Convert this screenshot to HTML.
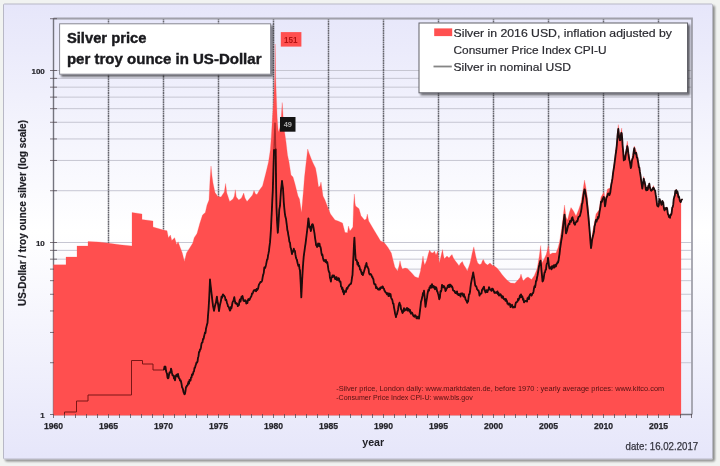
<!DOCTYPE html>
<html lang="en">
<head>
<meta charset="utf-8">
<title>Silver price per troy ounce in US-Dollar</title>
<style>
html,body{margin:0;padding:0;background:#f1f3f1;}
body{width:720px;height:466px;overflow:hidden;position:relative;font-family:"Liberation Sans",sans-serif;}
svg{position:absolute;left:0;top:0;display:block;}
svg text{font-family:"Liberation Sans",sans-serif;}
</style>
</head>
<body>
<svg width="720" height="466" viewBox="0 0 720 466">
<defs>
<linearGradient id="pg" x1="0" y1="0" x2="0" y2="1">
<stop offset="0" stop-color="#e6e6fa"/>
<stop offset="0.5" stop-color="#ffffff"/>
<stop offset="1" stop-color="#e6e6fa"/>
</linearGradient>
<filter id="sh" x="-5%" y="-5%" width="115%" height="125%">
<feGaussianBlur in="SourceAlpha" stdDeviation="1.1"/>
<feOffset dx="2" dy="2"/>
<feComponentTransfer><feFuncA type="linear" slope="0.6"/></feComponentTransfer>
<feMerge><feMergeNode/><feMergeNode in="SourceGraphic"/></feMerge>
</filter>
<filter id="sh2" x="-3%" y="-3%" width="108%" height="110%">
<feGaussianBlur in="SourceAlpha" stdDeviation="1"/>
<feOffset dx="1.6" dy="1.6"/>
<feComponentTransfer><feFuncA type="linear" slope="0.42"/></feComponentTransfer>
<feMerge><feMergeNode/><feMergeNode in="SourceGraphic"/></feMerge>
</filter>
<filter id="soft"><feGaussianBlur stdDeviation="0.5"/></filter>
</defs>

<!-- outer frame -->
<rect x="0" y="0" width="720" height="466" fill="#f1f3f1"/>
<rect x="3.5" y="4" width="709" height="455" rx="1" ry="1" fill="url(#pg)" stroke="#b8b8c6" stroke-width="1" filter="url(#sh2)"/>

<!-- plot area -->
<g stroke="#c6c6d2" stroke-width="1" fill="none">
<line x1="53.5" x2="692.0" y1="362.72" y2="362.72"/>
<line x1="53.5" x2="692.0" y1="332.44" y2="332.44"/>
<line x1="53.5" x2="692.0" y1="310.95" y2="310.95"/>
<line x1="53.5" x2="692.0" y1="294.28" y2="294.28"/>
<line x1="53.5" x2="692.0" y1="280.66" y2="280.66"/>
<line x1="53.5" x2="692.0" y1="269.14" y2="269.14"/>
<line x1="53.5" x2="692.0" y1="259.17" y2="259.17"/>
<line x1="53.5" x2="692.0" y1="250.37" y2="250.37"/>
<line x1="53.5" x2="692.0" y1="242.50" y2="242.50"/>
<line x1="53.5" x2="692.0" y1="190.72" y2="190.72"/>
<line x1="53.5" x2="692.0" y1="160.44" y2="160.44"/>
<line x1="53.5" x2="692.0" y1="138.95" y2="138.95"/>
<line x1="53.5" x2="692.0" y1="122.28" y2="122.28"/>
<line x1="53.5" x2="692.0" y1="108.66" y2="108.66"/>
<line x1="53.5" x2="692.0" y1="97.14" y2="97.14"/>
<line x1="53.5" x2="692.0" y1="87.17" y2="87.17"/>
<line x1="53.5" x2="692.0" y1="78.37" y2="78.37"/>
<line x1="53.5" x2="692.0" y1="70.50" y2="70.50"/>
<line x1="53.5" x2="692.0" y1="18.72" y2="18.72"/>
</g>
<g stroke="#66666e" stroke-width="1.5" stroke-dasharray="1.8 0.5" fill="none">
<line x1="108.5" x2="108.5" y1="18.5" y2="414.5"/>
<line x1="163.5" x2="163.5" y1="18.5" y2="414.5"/>
<line x1="218.5" x2="218.5" y1="18.5" y2="414.5"/>
<line x1="273.5" x2="273.5" y1="18.5" y2="414.5"/>
<line x1="328.5" x2="328.5" y1="18.5" y2="414.5"/>
<line x1="383.5" x2="383.5" y1="18.5" y2="414.5"/>
<line x1="438.5" x2="438.5" y1="18.5" y2="414.5"/>
<line x1="493.5" x2="493.5" y1="18.5" y2="414.5"/>
<line x1="548.5" x2="548.5" y1="18.5" y2="414.5"/>
<line x1="603.5" x2="603.5" y1="18.5" y2="414.5"/>
<line x1="658.5" x2="658.5" y1="18.5" y2="414.5"/>
</g>
<path d="M53.5 18.5H692.0V414.5" fill="none" stroke="#a0a0aa" stroke-width="1.8"/>

<!-- axes -->
<g stroke="#74747e" stroke-width="1.4" fill="none">
<line x1="53.5" x2="53.5" y1="18.5" y2="414.5"/>
<line x1="53.5" x2="692.0" y1="414.5" y2="414.5"/>
</g>

<!-- series -->
<g filter="url(#soft)">
<path d="M53.5 264.8L66 264.8L66 257L77 257L77 246L88 246L88 241.5L98.5 242L109 243.2L120 244.8L132 246L132 212.5L142 214L142 219.5L153 221L153 227L163.5 230L167 230.7L168.4 237.7L170.4 235L171.8 240.4L174.6 237.7L176.7 244.6L178.1 241.8L180.2 247.4L182.3 253L184.4 261.4L186.5 253L190 247.4L192.8 243L194.2 237.7L197 233.5L199.7 223.7L202.5 215L205.3 212.5L207 205L209 200L210 180L211 166L212 176L213 183L215 192.5L217.9 196.5L221 197L224.3 192L225.6 183.5L226.8 193L229.7 201.5L233 199L234.4 196L235.3 189.7L236.3 197L238.8 200L241.5 198L243.7 193L245 198L247 201.6L250 198L252.5 195L254 190.4L255.5 194L257 194.6L259.5 190L262.5 186L266 172.5L268.5 162L270.3 150L271.3 137L272.3 120L273.7 100L274.8 76L275.2 44L275.6 76L276.5 100L277.2 118L278.3 132L279.8 128L281.2 118L282.2 102.5L283.2 118L284.3 130L286 142L287.5 155L289 162L291 175L293 177L295 184L298 196L299.5 199L301.5 212.5L303.5 190L304.5 177L305.5 168L307.7 149L309 153L311.7 160L313 163L315.5 168L317 176L318.5 187L320 186L321 182L323 196L325 200L328 208L330.5 214L335 220L338 221L342.5 223L345 232.5L346.4 232.4L347.4 233L348.5 226L349.9 231L351.5 229L352.9 227L353.6 205L354.3 194L355 203L355.6 206L359 208.7L361 215.7L364.5 220L366.3 219L367.3 214L368.7 221L372.2 227L376.4 234L380.6 241L383 242L385 243.5L388 247.5L391.3 253L393 260L394.8 267L397.5 271L399 266L400 260.8L401.2 266L402.4 269L405 268L407.3 268.5L411.5 272.7L415 276.8L418.5 278L420.5 271L422 262L423 256L423.9 262L424.7 265L426.8 260L428.3 254L429.6 250L431 252.5L433 253L434.5 251L436 255L437.7 251L438.6 258L439.4 263L441 256L442.5 249.6L443.4 255L444.3 258.7L447 256L449 258L450.5 256L452 254.5L453.4 258L454.7 260L457 263L459 265.7L460.7 263L462.4 261.5L463.8 265L465.2 267L467.3 271L468.7 267L470 263L471.2 258L472.2 253L473.8 246.9L474.7 251L475.7 256L476.7 260L477.7 263L479.5 264.5L481.2 264L482.3 261L483.3 259.4L485 263L487.5 265L490 263L492.5 265.5L494 265.7L497 268L499.5 271L502 274.5L505 278L508 281L510.7 283L514.9 283.3L518.4 279.6L520 277.5L521 274L522 277.5L523.2 281L526 278L528 277L531.6 279.6L534.4 275.4L537.2 268.5L539.3 256L540.7 245.5L541.4 255L542 263L544.2 258.7L546.2 254.5L547.4 250L548.3 245.5L549 250L549.7 254.5L552.5 253L556 253L558.1 247.5L559.5 242L561 232.5L563 218L564.5 205L566 217L567.5 220L569.5 212L571 207.5L573.5 211L576 216L578.5 210L581 202.5L583 190L584.5 180L586 188L587.5 197.5L589 215L590 230L591 242.5L592.5 232L594 225L596 214L599 210L601 197L604 192L605 200L607.5 189L610 188L612 178L613.5 167L614.7 157.5L615.6 150L616.8 141L617.5 131.5L618.3 124.5L619.1 131L619.9 137L620.8 132.5L621.7 128L622.6 140L623.8 154.5L625 155.5L626.2 147.5L627.3 141L628.3 148.5L629.3 155.5L630.8 164L632.4 155L634.3 146L635.6 149.5L636.8 152.5L637.8 156.5L638.8 163L639.8 168L640.7 174L641.7 182L642.3 186.8L643.7 176.3L644.8 181.8L645.8 186.3L647.3 187.8L649.3 182.8L650.4 187L651.4 190L653.5 185.5L654.6 189L655.6 192.5L657 202L658.3 206.2L659.7 199L661.4 204L662.8 200.5L664.6 209.4L666.7 206.7L668 211.5L669.5 216.5L671.6 211.3L672.7 205.5L673.7 200.2L674.8 194L675.8 189.5L677.9 193.2L679.3 198.5L680.7 203.3L681 201L681.0 415.3L53.5 415.3Z" fill="#ff5050" stroke="#ff5050" stroke-width="0.25" stroke-linejoin="round"/>
<path d="M64.5 414.5L64.5 412L76.5 412L76.5 401L88 401L88 395L131.5 395L131.5 360.5L142.5 360.5L142.5 364L153 364L153 370L164 370" fill="none" stroke="#7a1414" stroke-width="1" stroke-linejoin="miter"/>
<path d="M164 369.4L164.5 366.7L165 366.5L165.5 366.8L166 370.8L166.5 372.5L167 373.7L167.5 377.7L168 378.3L168.5 377.8L169 374.5L169.5 372.5L170 372.4L170.5 372.5L171 368.6L171.5 370.3L172 373L172.5 375.4L173 375.3L173.5 375.6L174 378.7L174.5 376.4L175 380.3L175.5 377.2L176 375.7L176.5 374.6L177 375L177.5 376.5L178 373.9L178.5 376.6L179 378.2L179.5 378.5L180 380.5L180.5 380.1L181 381.4L181.5 383.7L182 387.1L182.5 388L183 389.3L183.5 392L184 393.2L184.5 394.3L185 393.7L185.5 391L186 387.1L186.5 386.9L187 385.4L187.5 385.4L188 384.1L188.5 381.8L189 383.6L189.5 379.8L190 380.1L190.5 380.6L191 377.7L191.5 377.5L192 374.3L192.5 375.1L193 374L193.5 371.8L194 371.4L194.5 367.8L195 367.7L195.5 365.8L196 364.3L196.5 362.5L197 362.6L197.5 361.6L198 357.7L198.5 356.2L199 351.8L199.5 351.9L200 349.5L200.5 349.3L201 347.2L201.5 343.7L202 342.6L202.5 342.4L203 338.8L203.5 339.1L204 336.8L204.5 334.6L205 332.4L205.5 333L206 328.7L206.5 326.6L207 324.6L207.5 323L208 315.6L208.5 309.9L209.2 298.1L209.6 289.1L210 279.5L210.5 284.5L211 288.7L211.5 293.1L212 297.3L212.5 301.8L213 305.7L213.5 308L214 310.8L214.5 308.4L215 305.7L215.5 303.9L216 302.5L216.4 299.5L216.9 296.7L217.4 301L218 303.5L218.5 307L219 311.2L219.5 307.9L220 304.9L220.5 302.8L221 300.6L221.5 296.6L222 297.9L222.5 295.8L223 294.3L223.5 295.4L224 295.3L224.5 296.6L225 296.9L225.5 300.2L226 299.4L226.5 300.9L227 303L227.5 304.3L228 306.4L228.5 306.6L229 307.7L229.5 309.5L230 310.6L230.5 309.8L231 306.8L231.5 308.1L232 305.4L232.5 302.4L232.9 301.5L233.4 300.6L233.8 299.3L234.3 297.1L234.9 301.3L235.4 303.3L236 302.9L236.4 303.9L236.9 303.4L237.4 304.4L237.8 306.2L238.4 304.5L238.9 305.1L239.4 301.2L240 299.3L240.5 301.6L241 299.1L241.5 296.7L242 297.2L242.5 296L243 298.5L243.5 300.8L244 301.1L244.5 301.2L245 300.1L245.4 301L245.9 300.8L246.3 303.5L246.8 303.1L247.4 303L247.9 300.4L248.4 299L249 300.1L249.5 299.9L250 298.6L250.5 297.6L251 296.8L251.5 295.9L252 293.4L252.5 293.7L253 292.5L253.6 290.8L254.1 290.2L254.6 290.6L255.2 289.9L255.6 290.9L256.1 291.3L256.6 288.9L257 290.1L257.6 289.4L258.1 288.5L258.7 285.5L259.1 284.2L259.6 283.5L260.1 282.7L260.5 281.9L261.1 282.1L261.6 281.8L262.2 280.2L262.8 276.4L263.3 274.6L263.8 272.6L264.3 267.5L264.8 268.2L265.2 267.8L265.7 266L266.1 264.4L266.6 261.9L267.1 259.3L267.5 259.4L268 255.8L268.5 253.4L269 250.7L269.5 246.1L270 242.4L270.5 235.9L271 228.3L271.4 219.5L271.8 211.5L272.3 200.5L272.8 190.6L273.4 170.4L274 150M275.7 149.5L276.1 185.5L276.5 207.7L277.1 222.2L277.8 232.8L278.2 227.6L278.6 221.5L279.3 209.3L280 205.7L280.5 197.7L281 190L281.5 186.1L282 180.9L282.5 185L283 188.5L283.4 195.1L283.8 202.6L284.3 208.2L284.8 213.1L285.4 216.8L286 218.7L286.5 222.9L287 226.5L287.4 230.3L287.9 232.1L288.3 234.8L288.9 238L289.4 241.8L290 242.7L290.5 247.3L291 248.5L291.5 251.4L292 254.1L292.5 251.4L292.9 252L293.4 250.2L293.8 248.7L294.3 250.7L294.9 250.9L295.4 254.4L296 257.8L296.4 258.9L296.9 259.8L297.4 262.2L297.8 264L298.4 265.9L299 264.6L299.5 268.7L300 270.6L300.7 283.7L301.3 297.4L302 283L302.4 275.6L302.8 268.4L303.2 262.9L303.7 256.6L304.1 253.6L304.6 250.2L305 247L305.5 243.8L306 239.9L306.6 235L307.2 230L307.8 224.6L308.4 218.3L308.9 222.5L309.5 227.6L309.9 226.3L310.4 228.5L310.8 231.1L311.4 229L312 224.7L312.5 224.1L313 224.9L313.5 227.4L314 230.6L314.5 233.4L315 237.6L315.6 241.4L316.1 245.1L316.7 245.8L317.1 247L317.6 246.1L318.1 243.5L318.5 245.4L319 246L319.5 243.7L320 246.6L320.5 246.9L321 249.5L321.5 253.5L322 255.2L322.4 254.6L322.9 257.5L323.4 259.6L323.8 260.8L324.4 260.2L324.9 260.5L325.5 261.8L325.9 260L326.4 262.6L326.9 262.9L327.3 262.1L327.9 265.9L328.4 269.7L329 272L329.5 272.4L329.9 277.7L330.4 279L330.9 281.7L331.4 277.6L331.9 277.2L332.5 275.3L333 277L333.5 275.6L334 275.5L334.6 276.9L335.1 279.1L335.6 279.1L336.1 277.3L336.6 277.1L337 280.1L337.5 279.1L338 279.7L338.5 278.1L339 278.7L339.5 281.6L340 281.2L340.5 281.6L341 286.3L341.5 286.9L342 289.1L342.5 287.8L342.9 291.8L343.4 290.2L343.9 294.3L344.4 292.2L345 291.1L345.5 291.2L346 291.9L346.4 289L346.9 287.9L347.4 288.7L347.9 287.1L348.5 286.1L349 285.8L349.5 284.6L350 284.4L350.5 284.1L351 283.7L351.5 281.4L352 277.7L352.5 275L353 264.5L353.5 254.8L353.9 245.8L354.4 237.6L355 249.3L355.7 259.8L356.1 260.2L356.6 259.9L357.1 261.9L357.5 264.6L358.1 262.6L358.6 266.1L359.2 265.8L359.6 267.2L360.1 269.7L360.6 269.4L361 271L361.4 272.4L361.9 274.2L362.4 272.7L362.8 275.2L363.4 273.4L363.9 271.8L364.5 269.7L365 268.1L365.5 265.6L366 264.5L366.5 263L367 266.9L367.5 266.6L368 267.8L368.5 268.8L369 272.7L369.5 274.1L370 274.6L370.5 273.9L371 274.4L371.5 275.3L372 276.9L372.4 276.8L372.9 278.8L373.4 279.1L373.9 283L374.5 284.4L375 284.2L375.5 284.3L376 288.1L376.5 286.9L377 288.3L377.5 288.2L378 289.5L378.5 289.7L379 289.7L379.5 288.5L380 289.5L380.5 287.4L381 288.1L381.5 287.1L382 287.9L382.5 286.4L383 286.9L383.5 288.5L384 288.8L384.5 290.7L385 291.1L385.5 292.4L386 292.6L386.5 293.3L387 294.4L387.5 293.1L388 293.4L388.5 296.1L389 293.4L389.5 295.8L390 295.8L390.5 294L391 297.2L391.5 298.7L392 299.1L392.5 300.8L393 303.6L393.5 303.7L394 307.6L394.5 309.8L395 313.2L395.5 315.1L396 317.2L396.5 314.6L397 314.1L397.5 311.7L398 309.9L398.5 306.5L399 304.1L399.5 302.7L400 304.8L400.5 305.2L401 309.2L401.5 309.7L402 311.5L402.5 313L403 312.3L403.5 310.8L404 308.2L404.5 310.8L405 310.4L405.5 309.3L406 309.1L406.5 309.8L407 307.9L407.5 310.6L408 309.1L408.5 308.7L409 309.7L409.5 311.6L410 309.9L410.5 312.4L411 313.7L411.5 312.5L412 312.6L412.5 313.7L413 315.2L413.5 316.2L414 316.4L414.5 316.8L415 315.1L415.5 315.6L416 316.3L416.5 318.4L417 317.1L417.5 318.3L418 316.6L418.5 317.1L419 318.7L419.5 314.7L420 310.3L420.5 306.5L421 301.7L421.5 300.4L422 298L422.5 295.9L423 293L423.5 294.1L424 290.6L424.4 295.2L424.8 298.6L425.5 306.8L426 303.7L426.5 300.5L427 297.7L427.5 293.8L428 291.5L428.5 289.6L429 290.6L429.5 287.3L430 288L430.5 285.7L431 286.6L431.5 287.6L432 284.2L432.5 286.2L433 285.7L433.5 287.7L434 287.7L434.5 286.5L435 289.4L435.5 288.5L436 287.3L436.5 288.2L437 291L437.5 291.8L437.9 293.3L438.4 294.7L438.9 297.4L439.3 299.3L439.9 297.7L440.5 291.2L441 291.7L441.5 289.7L442 284.9L442.5 285.5L443 285.8L443.5 287.4L444 286.2L444.5 287.3L445 288.1L445.5 291L446 290.3L446.5 288.7L447 288.2L447.5 286.9L448 285.4L448.5 285.1L449 287.2L449.5 284.7L450 286.6L450.5 284.7L451 285.4L451.5 286.8L452 286.3L452.5 287.5L453 290.2L453.5 290.6L454 290.9L454.5 290.9L455 292.5L455.5 293.1L456 292.2L456.5 293.3L457 291.4L457.5 294.3L458 293.7L458.5 295.2L459 295.2L459.5 294.3L460 293.9L460.5 296.7L461 293.4L461.5 294.3L462 293.4L462.5 293.5L463 295.4L463.5 296.5L464 294.1L464.5 296.9L465 296.9L465.5 299.2L466.1 300.3L466.6 301.1L467.2 302.8L467.6 300.9L468.1 301.5L468.5 298L469 294.3L469.5 294.1L470 291.8L470.5 287.2L471 283.4L471.5 280.9L472.1 277.9L472.6 276.1L473.2 272.5L473.7 275.6L474.2 278.1L474.7 281.8L475.2 285.4L475.6 286.1L476.1 286.2L476.6 287.4L477 289.1L477.5 289.6L478 290.4L478.5 290.4L479 292.2L479.5 295.7L480 293.7L480.5 294L481 293.5L481.5 293.3L482 290L482.5 289.2L483 288.1L483.5 287.6L484 286.8L484.5 290L485 291L485.5 292.5L486 290.8L486.5 290.2L487 292L487.5 292L488 289.9L488.5 289.8L489 287.2L489.5 288.1L490 289.5L490.5 289.6L491 290.1L491.5 290.9L492 288.7L492.5 288.6L493 289.1L493.5 290.7L494 291.6L494.5 292.8L495 292.3L495.5 292.3L496 293.1L496.5 292.2L497 292.9L497.5 291.3L498 294.4L498.5 292.8L499 295.7L499.5 295.1L500 294.3L500.5 294.2L501 295.1L501.5 297L502 297.7L502.5 296.1L503 296.5L503.5 298.6L504 299.3L504.5 299.1L505 299L505.5 300.8L506 299L506.5 300.5L507 301.5L507.5 303.7L508 303.1L508.5 304.6L509 303.7L509.5 303.4L510 304.1L510.5 307L511 306.5L511.5 305.4L512 304.8L512.5 306.7L513 307.6L513.5 307L514 306.6L514.5 307.3L515 307.4L515.5 304L516 302.3L516.5 302.4L517 301.7L517.5 301.7L518 298.9L518.5 300.1L519 298.9L519.5 297.3L520 295.4L520.5 297.4L521 294.3L521.5 297.2L522 296L522.5 297L523 299.9L523.5 299.1L524 302.4L524.5 301.6L525 301.4L525.5 300.9L526 301L526.5 301.2L527 301.6L527.5 298.1L528 298.4L528.5 297.1L529 299.2L529.5 295.6L530 294.6L530.5 294L531 294.6L531.5 295.6L532 294.7L532.5 293.3L533 293.1L533.5 291.7L534 288.4L534.5 286.2L535 287.3L535.5 285L536 280.8L536.5 280.9L537 277.7L537.5 275.5L538 272.7L538.5 269.5L539 266.2L539.5 264.5L540 262.1L540.5 260.7L541 264.5L541.5 270.7L542 275.6L542.5 281.5L543.1 280.7L543.7 278.2L544.1 275.3L544.6 272.4L545 272.4L545.5 269.9L546 269.7L546.5 264.9L547 263.3L547.5 263.1L548 257.8L548.5 261.9L549 266.1L549.5 268.5L550 268.3L550.5 267.6L551 266.9L551.5 269.3L552 266.1L552.5 267.6L553 267.9L553.5 265.7L554 265.2L554.5 267.5L555 266.2L555.5 264.8L556 266.3L556.5 264.3L557 263.7L557.5 262.2L558 262.6L558.5 260.8L559 257.2L559.5 254.1L560 249.3L560.6 245.1L561.2 241L561.6 238.8L562.1 236L562.5 232.3L563 227.4L563.5 222.9L564 218.5L564.5 214.6L564.9 218.5L565.3 224.4L566 233.4L566.5 232.2L567 230.5L567.5 228.4L568 226L568.5 224.7L569 223.5L569.5 224.3L570 221L570.5 220.7L571 221.9L571.5 219.4L572 218.1L572.5 217.3L573 220.2L573.5 220.4L574 223.7L574.5 223.9L575 224.8L575.5 222.7L576 222.5L576.5 221.3L577 221.5L577.5 221L578 218.8L578.5 217L579 216.7L579.5 216.4L580 215.6L580.5 213.6L581 211.6L581.5 208.6L582 203.9L582.5 203L583 198.5L583.5 195.1L584 191.6L584.5 189.4L584.9 189.9L585.4 192.6L585.8 195.1L586.4 198.3L587 203.6L587.5 208.1L588 212.7L588.5 217.9L589 223.7L589.5 229.5L590 235.6L590.5 242.4L591 248.2L591.5 245.2L592 240.4L592.5 238L593 236.1L593.5 233.9L594 231.8L594.5 226.3L595 224.9L595.5 222L596 219.9L596.5 221.7L597 219.3L597.5 219.5L598 216.9L598.5 218L599 215.9L599.5 212.2L600 209.4L600.5 206.6L601 201.6L601.5 202.3L602 201.4L602.5 199L603 198.7L603.5 197L604 197.1L604.5 201.4L605 206.4L605.4 204.5L605.9 200.9L606.3 198.2L606.9 196.9L607.5 195.6L608 193.7L608.5 194L609 193.4L609.4 195.1L609.9 193.7L610.3 192.4L610.8 188.4L611.3 184.6L611.9 181.7L612.5 178.2L613 173.7L613.5 170.2L614 167.3L614.7 161.9L615.2 158.2L615.6 154.7L616.2 151L616.8 145.4L617.5 136.1L617.9 132.3L618.3 128.9L618.7 133L619.1 136.7L619.5 138.6L619.9 140.4L620.3 140.1L620.8 135.9L621.2 133L621.7 133.1L622.2 138.6L622.6 145.5L623.2 151.9L623.8 160.4L624.4 159.4L625 159.5L625.6 155.3L626.2 152.2L626.8 149.3L627.3 146.1L627.8 148.7L628.3 153.2L628.8 156.3L629.3 160L629.8 161.4L630.3 164.6L630.8 168.1L631.3 166.5L631.9 160.6L632.4 159L632.9 157.7L633.3 155.9L633.8 150.8L634.3 148.2L634.7 152.3L635.2 153.5L635.6 152.9L636.2 152.9L636.8 157.5L637.3 157.6L637.8 160.6L638.3 163.2L638.8 167.2L639.3 167.3L639.8 171.4L640.2 173.6L640.7 176.9L641.2 181L641.7 184.5L642.3 188.5L642.8 185.1L643.2 181.9L643.7 178.6L644.2 180.8L644.8 182.6L645.3 185.3L645.8 189.3L646.3 190.4L646.8 187.8L647.3 190.2L647.8 189.7L648.3 185.8L648.8 187.5L649.3 183.6L649.8 187.1L650.4 188.7L650.9 190.5L651.4 190.8L651.9 190.1L652.5 189.5L653 187.9L653.5 187.6L654 188.6L654.6 190.3L655.1 190.5L655.6 194.2L656.1 197.2L656.5 200L657 204.4L657.4 205.9L657.9 206.1L658.3 206.5L658.8 205.2L659.2 201.5L659.7 199.2L660.3 201.8L660.8 202L661.4 204.8L661.9 203.9L662.3 201L662.8 202L663.2 202.2L663.7 206.8L664.1 209.2L664.6 210.4L665.1 208.1L665.7 209.1L666.2 207.9L666.7 209.3L667.1 208L667.6 212.2L668 214.3L668.5 215L669 217L669.5 216.4L670 217.8L670.5 214.6L671.1 214.9L671.6 213.3L672.2 207.7L672.7 207L673.2 204.9L673.7 199.1L674.2 197.1L674.8 195.4L675.3 191L675.8 191.4L676.3 190.1L676.8 193L677.4 191.5L677.9 193.7L678.4 197L678.8 196.2L679.3 198.1L679.8 200.6L680.2 201.5L680.7 202.1L681.1 201.2L681.6 199.7L682 199.5" fill="none" stroke="#1c0808" stroke-width="1.8" stroke-linejoin="round" stroke-linecap="round"/>
<path d="M274 150L275 123L275.7 150" fill="none" stroke="#5a0a0a" stroke-width="1.3" stroke-opacity="0.55" stroke-linejoin="round"/>
</g>

<!-- axes ticks -->
<g stroke="#4a4048" stroke-width="1" fill="none" opacity="0.7">
<line x1="50.0" x2="54.0" y1="414.50" y2="414.50"/>
<line x1="50.0" x2="54.0" y1="362.72" y2="362.72"/>
<line x1="50.0" x2="54.0" y1="332.44" y2="332.44"/>
<line x1="50.0" x2="54.0" y1="310.95" y2="310.95"/>
<line x1="50.0" x2="54.0" y1="294.28" y2="294.28"/>
<line x1="50.0" x2="54.0" y1="280.66" y2="280.66"/>
<line x1="50.0" x2="54.0" y1="269.14" y2="269.14"/>
<line x1="50.0" x2="57.0" y1="259.17" y2="259.17"/>
<line x1="50.0" x2="57.0" y1="250.37" y2="250.37"/>
<line x1="50.0" x2="57.0" y1="242.50" y2="242.50"/>
<line x1="50.0" x2="57.0" y1="190.72" y2="190.72"/>
<line x1="50.0" x2="57.0" y1="160.44" y2="160.44"/>
<line x1="50.0" x2="57.0" y1="138.95" y2="138.95"/>
<line x1="50.0" x2="57.0" y1="122.28" y2="122.28"/>
<line x1="50.0" x2="57.0" y1="108.66" y2="108.66"/>
<line x1="50.0" x2="57.0" y1="97.14" y2="97.14"/>
<line x1="50.0" x2="57.0" y1="87.17" y2="87.17"/>
<line x1="50.0" x2="57.0" y1="78.37" y2="78.37"/>
<line x1="50.0" x2="57.0" y1="70.50" y2="70.50"/>
<line x1="50.0" x2="57.0" y1="18.72" y2="18.72"/>
<line x1="53.5" x2="53.5" y1="414.0" y2="418.0"/>
<line x1="64.5" x2="64.5" y1="414.0" y2="418.0"/>
<line x1="75.5" x2="75.5" y1="414.0" y2="418.0"/>
<line x1="86.5" x2="86.5" y1="414.0" y2="418.0"/>
<line x1="97.5" x2="97.5" y1="414.0" y2="418.0"/>
<line x1="108.5" x2="108.5" y1="414.0" y2="418.0"/>
<line x1="119.5" x2="119.5" y1="414.0" y2="418.0"/>
<line x1="130.5" x2="130.5" y1="414.0" y2="418.0"/>
<line x1="141.5" x2="141.5" y1="414.0" y2="418.0"/>
<line x1="152.5" x2="152.5" y1="414.0" y2="418.0"/>
<line x1="163.5" x2="163.5" y1="414.0" y2="418.0"/>
<line x1="174.5" x2="174.5" y1="414.0" y2="418.0"/>
<line x1="185.5" x2="185.5" y1="414.0" y2="418.0"/>
<line x1="196.5" x2="196.5" y1="414.0" y2="418.0"/>
<line x1="207.5" x2="207.5" y1="414.0" y2="418.0"/>
<line x1="218.5" x2="218.5" y1="414.0" y2="418.0"/>
<line x1="229.5" x2="229.5" y1="414.0" y2="418.0"/>
<line x1="240.5" x2="240.5" y1="414.0" y2="418.0"/>
<line x1="251.5" x2="251.5" y1="414.0" y2="418.0"/>
<line x1="262.5" x2="262.5" y1="414.0" y2="418.0"/>
<line x1="273.5" x2="273.5" y1="414.0" y2="418.0"/>
<line x1="284.5" x2="284.5" y1="414.0" y2="418.0"/>
<line x1="295.5" x2="295.5" y1="414.0" y2="418.0"/>
<line x1="306.5" x2="306.5" y1="414.0" y2="418.0"/>
<line x1="317.5" x2="317.5" y1="414.0" y2="418.0"/>
<line x1="328.5" x2="328.5" y1="414.0" y2="418.0"/>
<line x1="339.5" x2="339.5" y1="414.0" y2="418.0"/>
<line x1="350.5" x2="350.5" y1="414.0" y2="418.0"/>
<line x1="361.5" x2="361.5" y1="414.0" y2="418.0"/>
<line x1="372.5" x2="372.5" y1="414.0" y2="418.0"/>
<line x1="383.5" x2="383.5" y1="414.0" y2="418.0"/>
<line x1="394.5" x2="394.5" y1="414.0" y2="418.0"/>
<line x1="405.5" x2="405.5" y1="414.0" y2="418.0"/>
<line x1="416.5" x2="416.5" y1="414.0" y2="418.0"/>
<line x1="427.5" x2="427.5" y1="414.0" y2="418.0"/>
<line x1="438.5" x2="438.5" y1="414.0" y2="418.0"/>
<line x1="449.5" x2="449.5" y1="414.0" y2="418.0"/>
<line x1="460.5" x2="460.5" y1="414.0" y2="418.0"/>
<line x1="471.5" x2="471.5" y1="414.0" y2="418.0"/>
<line x1="482.5" x2="482.5" y1="414.0" y2="418.0"/>
<line x1="493.5" x2="493.5" y1="414.0" y2="418.0"/>
<line x1="504.5" x2="504.5" y1="414.0" y2="418.0"/>
<line x1="515.5" x2="515.5" y1="414.0" y2="418.0"/>
<line x1="526.5" x2="526.5" y1="414.0" y2="418.0"/>
<line x1="537.5" x2="537.5" y1="414.0" y2="418.0"/>
<line x1="548.5" x2="548.5" y1="414.0" y2="418.0"/>
<line x1="559.5" x2="559.5" y1="414.0" y2="418.0"/>
<line x1="570.5" x2="570.5" y1="414.0" y2="418.0"/>
<line x1="581.5" x2="581.5" y1="414.0" y2="418.0"/>
<line x1="592.5" x2="592.5" y1="414.0" y2="418.0"/>
<line x1="603.5" x2="603.5" y1="414.0" y2="418.0"/>
<line x1="614.5" x2="614.5" y1="414.0" y2="418.0"/>
<line x1="625.5" x2="625.5" y1="414.0" y2="418.0"/>
<line x1="636.5" x2="636.5" y1="414.0" y2="418.0"/>
<line x1="647.5" x2="647.5" y1="414.0" y2="418.0"/>
<line x1="658.5" x2="658.5" y1="414.0" y2="418.0"/>
<line x1="669.5" x2="669.5" y1="414.0" y2="418.0"/>
<line x1="680.5" x2="680.5" y1="414.0" y2="418.0"/>
<line x1="691.5" x2="691.5" y1="414.0" y2="418.0"/>
</g>

<!-- axis tick labels -->
<g font-size="8.6" font-weight="bold" fill="#26262c" stroke="#26262c" stroke-width="0.25" text-anchor="middle">
<text x="53.5" y="429">1960</text>
<text x="108.5" y="429">1965</text>
<text x="163.5" y="429">1970</text>
<text x="218.5" y="429">1975</text>
<text x="273.5" y="429">1980</text>
<text x="328.5" y="429">1985</text>
<text x="383.5" y="429">1990</text>
<text x="438.5" y="429">1995</text>
<text x="493.5" y="429">2000</text>
<text x="548.5" y="429">2005</text>
<text x="603.5" y="429">2010</text>
<text x="658.5" y="429">2015</text>
</g>
<g font-size="8" font-weight="bold" fill="#26262c" stroke="#26262c" stroke-width="0.2" text-anchor="end">
<text x="44.8" y="417.7">1</text>
<text x="44.8" y="245.7">10</text>
<text x="44.8" y="73.7">100</text>
</g>

<!-- axis titles -->
<text x="373.2" y="445.6" font-size="10.5" font-weight="bold" fill="#1e1e24" text-anchor="middle" textLength="22" lengthAdjust="spacingAndGlyphs">year</text>
<text transform="translate(25.8 213) rotate(-90)" font-size="10.2" font-weight="bold" fill="#1e1e24" stroke="#1e1e24" stroke-width="0.2" text-anchor="middle" textLength="186" lengthAdjust="spacingAndGlyphs">US-Dollar / troy ounce silver (log scale)</text>
<text x="625.6" y="450" font-size="10.4" fill="#34343e" stroke="#34343e" stroke-width="0.25" textLength="72.6" lengthAdjust="spacingAndGlyphs">date: 16.02.2017</text>

<!-- source notes -->
<g font-size="7" fill="#521212" xml:space="preserve">
<text x="336.2" y="390.7" textLength="328" lengthAdjust="spacingAndGlyphs">-Silver price, London daily: www.marktdaten.de, before 1970 :  yearly  average prices: www.kitco.com</text>
<text x="336.2" y="400.4" textLength="136.5" lengthAdjust="spacingAndGlyphs">-Consumer Price Index CPI-U: www.bls.gov</text>
</g>

<!-- peak labels -->
<rect x="280.8" y="32.1" width="20.6" height="14.5" fill="#ff5050"/>
<text x="284" y="42.9" font-size="9" font-weight="bold" fill="#b41212" textLength="13.6" lengthAdjust="spacingAndGlyphs">151</text>
<rect x="280" y="117" width="15.5" height="14.7" fill="#141414"/>
<text x="287.8" y="127.2" font-size="7.4" font-weight="bold" fill="#b0b0b0" text-anchor="middle">49</text>

<!-- title box -->
<rect x="59.6" y="23.8" width="211" height="50.4" fill="#ffffff" stroke="#8a8a94" stroke-width="1" filter="url(#sh)"/>
<g font-size="14.4" font-weight="bold" fill="#1a1a1e" stroke="#1a1a1e" stroke-width="0.4">
<text x="66.9" y="43.2" textLength="79.6" lengthAdjust="spacingAndGlyphs">Silver price</text>
<text x="66.9" y="63.6" textLength="194.6" lengthAdjust="spacingAndGlyphs">per troy ounce in US-Dollar</text>
</g>

<!-- legend box -->
<rect x="419" y="23" width="268.5" height="69.8" fill="#ffffff" stroke="#62626a" stroke-width="1" filter="url(#sh)"/>
<rect x="434.2" y="28.4" width="18" height="7.7" fill="#ff5050"/>
<line x1="433.5" x2="451.8" y1="66.5" y2="66.5" stroke="#858585" stroke-width="1.8"/>
<g font-size="11.8" fill="#2a2a30" stroke="#2a2a30" stroke-width="0.2">
<text x="453.5" y="36.8" textLength="218.5" lengthAdjust="spacingAndGlyphs">Silver in 2016 USD, inflation adjusted by</text>
<text x="453.5" y="53.8" textLength="153" lengthAdjust="spacingAndGlyphs">Consumer Price Index CPI-U</text>
<text x="453.5" y="70.8" textLength="117.5" lengthAdjust="spacingAndGlyphs">Silver in nominal USD</text>
</g>
</svg>
</body>
</html>
